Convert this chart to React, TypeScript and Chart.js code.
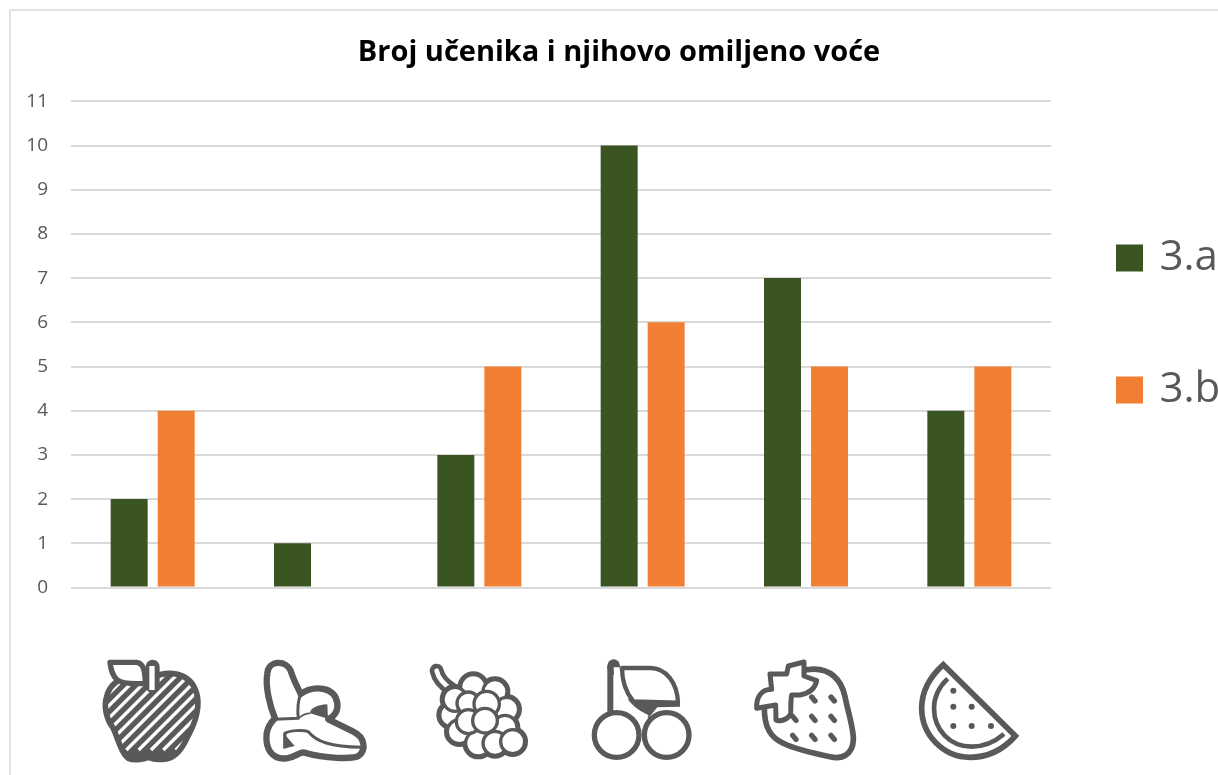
import React, { useEffect, useRef } from "react";
import { Chart, registerables } from "chart.js";

Chart.register(...registerables);

const categories = ["Jabuka", "Banana", "Grožđe", "Trešnje", "Jagoda", "Lubenica"];
const class3a = [2, 1, 3, 10, 7, 4];
const class3b = [4, 0, 5, 6, 5, 5];
const seriesNames = ["3.a", "3.b"];
const seriesColors = ["#3a5521", "#f07f33"];
const titleText = "Broj učenika i njihovo omiljeno voće";

const INK = "#595959";
const GRID = "#d9d9d9";

type Ctx = CanvasRenderingContext2D;

function shape(ctx: Ctx, d: string, fill: string | null, stroke: string | null, lw = 14) {
  const p = new Path2D(d);
  if (fill) { ctx.fillStyle = fill; ctx.fill(p); }
  if (stroke) { ctx.strokeStyle = stroke; ctx.lineWidth = lw; ctx.stroke(p); }
}

function circle(ctx: Ctx, x: number, y: number, r: number, fill: string | null, stroke: string | null, lw = 10) {
  ctx.beginPath();
  ctx.arc(x, y, r, 0, Math.PI * 2);
  if (fill) { ctx.fillStyle = fill; ctx.fill(); }
  if (stroke) { ctx.strokeStyle = stroke; ctx.lineWidth = lw; ctx.stroke(); }
}

function apple(ctx: Ctx) {
  const body = "M190 82 C230 62 300 62 320 130 C333 180 310 230 292 262 C275 300 250 330 215 328 C198 330 185 326 175 322 C160 330 130 332 115 325 C95 310 85 270 70 235 C50 210 40 170 50 140 C57 110 75 92 110 82 Z";
  const p = new Path2D(body);
  ctx.fillStyle = INK;
  ctx.fill(p);
  ctx.save();
  ctx.clip(p);
  ctx.strokeStyle = "#fff";
  ctx.lineWidth = 10;
  for (let k = 0; k < 13; k++) {
    const c = 150 + k * 37;
    ctx.beginPath();
    ctx.moveTo(c - 300, 300);
    ctx.lineTo(c, 0);
    ctx.stroke();
  }
  ctx.restore();
  ctx.strokeStyle = INK;
  ctx.lineWidth = 17;
  ctx.stroke(p);
  shape(ctx, "M60 37 L140 37 C162 40 165 65 166 100 C130 102 95 102 80 88 C66 75 62 55 60 37 Z", "#fff", INK, 16);
  ctx.lineCap = "round";
  ctx.strokeStyle = INK;
  ctx.lineWidth = 42;
  ctx.beginPath(); ctx.moveTo(188, 50); ctx.lineTo(188, 108); ctx.stroke();
  ctx.strokeStyle = "#fff";
  ctx.lineWidth = 16;
  ctx.lineCap = "butt";
  ctx.beginPath(); ctx.moveTo(186, 48); ctx.lineTo(186, 120); ctx.stroke();
}

function banana(ctx: Ctx) {
  shape(ctx, "M532 70 C535 30 590 28 603 65 C612 95 625 115 632 132 C670 105 735 108 742 160 C745 185 730 200 715 208 L790 245 C825 262 830 300 805 318 C790 328 700 325 650 310 C630 300 625 320 590 325 C545 330 525 295 530 250 C533 230 545 215 555 205 C540 170 525 110 532 70 Z", "#fff", INK, 19);
  shape(ctx, "M555 208 L625 205 C622 180 625 150 632 132", null, INK, 9);
  shape(ctx, "M585 295 L585 250 C600 240 640 240 655 245 C680 275 720 290 815 292", null, INK, 9);
  shape(ctx, "M580 248 L614 288 L580 296 Z", INK, null);
  shape(ctx, "M660 190 C660 175 680 165 712 163 L714 206 Z", INK, null);
  shape(ctx, "M625 205 C640 192 650 190 660 190", null, INK, 5);
}

function grapes(ctx: Ctx) {
  const bunch: [number, number, number][] = [
    [1150, 112, 38], [1215, 125, 36], [1250, 178, 36], [1245, 232, 36], [1085, 195, 36],
    [1095, 148, 36], [1108, 245, 36], [1165, 280, 38], [1215, 280, 36], [1135, 160, 34],
    [1135, 215, 36], [1190, 162, 38], [1185, 212, 37], [1268, 275, 36],
  ];
  ctx.lineCap = "round";
  ctx.strokeStyle = INK;
  shape(ctx, "M1040 62 C1045 85 1060 102 1085 118", null, INK, 42);
  shape(ctx, "M1040 62 C1045 85 1060 102 1085 118", null, "#fff", 14);
  bunch.forEach(([x, y, r]) => circle(ctx, x, y, r, INK, INK, 20));
  bunch.forEach(([x, y, r]) => circle(ctx, x, y, r, "#fff", INK, 10));
}

function cherry(ctx: Ctx) {
  ctx.lineCap = "round";
  ctx.strokeStyle = INK;
  ctx.lineWidth = 38;
  ctx.beginPath(); ctx.moveTo(131, 47); ctx.lineTo(131, 55); ctx.stroke();
  ctx.lineCap = "butt";
  ctx.lineWidth = 18;
  ctx.beginPath(); ctx.moveTo(121, 47); ctx.lineTo(121, 190); ctx.stroke();
  shape(ctx, "M148 140 C170 175 200 190 235 205 L262 172 L330 170 L330 150 L190 150 Z", INK, null);
  shape(ctx, "M156 54 L240 54 C290 54 322 100 324 158 L190 154 C170 130 156 100 156 54 Z", "#fff", INK, 13);
  shape(ctx, "M140 52 C140 120 160 172 232 204", null, "#fff", 18);
  circle(ctx, 140, 255, 67, "#fff", INK, 16);
  circle(ctx, 290, 255, 67, "#fff", INK, 16);
}

function strawberry(ctx: Ctx) {
  shape(ctx, "M720 58 C780 52 815 90 825 140 C835 190 852 240 850 270 C848 310 820 330 780 320 C730 310 680 300 640 280 C600 262 583 230 583 175 C583 120 640 60 720 58 Z", "#fff", INK, 17);
  shape(ctx, "M600 72 L650 72 L655 48 L702 36 L702 78 L740 92 C735 118 715 130 690 135 L665 135 C660 160 665 190 660 195 C650 212 625 215 618 210 L617 165 L560 175 C558 140 575 118 605 118 Z", "#fff", INK, 15);
  const seeds: [number, number][] = [[730, 147], [788, 147], [673, 205], [730, 205], [788, 205], [673, 262], [730, 262], [788, 262]];
  ctx.lineCap = "round";
  ctx.strokeStyle = INK;
  ctx.lineWidth = 16;
  seeds.forEach(([x, y]) => {
    ctx.beginPath(); ctx.moveTo(x - 5, y - 6); ctx.lineTo(x + 5, y + 6); ctx.stroke();
  });
}

function watermelon(ctx: Ctx) {
  ctx.lineJoin = "miter";
  shape(ctx, "M1120 44 L1336 258 C1290 310 1240 322 1200 322 C1120 322 1055 255 1055 175 C1055 125 1080 80 1120 44 Z", "#fff", INK, 17);
  shape(ctx, "M1302 252 C1275 275 1240 290 1205 290 C1140 290 1092 240 1092 175 C1092 140 1108 110 1133 86", null, INK, 14);
  const dots: [number, number][] = [[1150, 122], [1150, 170], [1205, 170], [1150, 228], [1205, 228], [1263, 228]];
  dots.forEach(([x, y]) => circle(ctx, x, y, 9, INK, null));
}

const icons: { draw: (c: Ctx) => void; origin: number }[] = [
  { draw: apple, origin: 188 },
  { draw: banana, origin: 678 },
  { draw: grapes, origin: 1168 },
  { draw: cherry, origin: 218 },
  { draw: strawberry, origin: 708 },
  { draw: watermelon, origin: 1198 },
];

const framePlugin = {
  id: "frame",
  beforeDraw(chart: any) {
    const { ctx } = chart;
    ctx.save();
    ctx.strokeStyle = "#e2e2e2";
    ctx.lineWidth = 2;
    ctx.strokeRect(10, 10, 1400, 1000);
    ctx.restore();
  },
};

const placePlugin = {
  id: "place",
  afterLayout(chart: any) {
    const lg = chart.legend;
    const pad = lg.options.labels.padding;
    lg.left = 1120.5 - pad;
    lg.right = 1218;
    lg.top = 237 - pad;
    lg.bottom = 775;
    const tb = chart.titleBlock;
    tb.left = 20;
    tb.right = 1218;
  },
};

const iconPlugin = {
  id: "fruitIcons",
  afterDraw(chart: any) {
    const { ctx } = chart;
    const xs = chart.scales.x;
    icons.forEach((ic, i) => {
      ctx.save();
      ctx.translate(xs.getPixelForTick(i) - ic.origin / 3, 650);
      ctx.scale(1 / 3, 1 / 3);
      ctx.lineJoin = "round";
      ic.draw(ctx);
      ctx.restore();
    });
  },
};

export default function App() {
  const ref = useRef<HTMLCanvasElement>(null);
  useEffect(() => {
    const chart = new Chart(ref.current!, {
      type: "bar",
      data: {
        labels: categories,
        datasets: [
          { label: seriesNames[0], data: class3a, backgroundColor: seriesColors[0], borderWidth: 0 },
          { label: seriesNames[1], data: class3b, backgroundColor: seriesColors[1], borderWidth: 0 },
        ],
      },
      plugins: [framePlugin, placePlugin, iconPlugin],
      options: {
        responsive: false,
        animation: false,
        maintainAspectRatio: false,
        layout: { padding: { top: 0, left: 0, right: 0, bottom: 187.5 } },
        datasets: { bar: { categoryPercentage: 0.5755, barPercentage: 0.787 } },
        plugins: {
          tooltip: { enabled: false },
          title: {
            display: true,
            text: titleText,
            color: "#000",
            font: { family: "'Open Sans'", size: 29, weight: "bold" },
            padding: { top: 35, bottom: 31.5 },
          },
          legend: {
            display: true,
            position: "right",
            align: "start",
            maxWidth: 167,
            labels: {
              boxWidth: 18,
              boxHeight: 18,
              padding: 90,
              color: "#595959",
              font: { family: "'Open Sans'", size: 42 },
              generateLabels: (c: any) =>
                c.data.datasets.map((d: any, i: number) => ({
                  text: d.label,
                  fillStyle: d.backgroundColor,
                  strokeStyle: d.backgroundColor,
                  lineWidth: 9,
                  lineJoin: "miter",
                  datasetIndex: i,
                  fontColor: "#595959",
                })),
            },
          },
        },
        scales: {
          x: {
            grid: { display: false, drawTicks: false },
            border: { display: false },
            ticks: { display: false },
          },
          y: {
            min: 0,
            max: 11,
            afterFit(s: any) { s.width = 71; },
            grid: { color: GRID, lineWidth: 2, drawTicks: false },
            border: { display: false },
            ticks: {
              stepSize: 1,
              padding: 23,
              color: "#595959",
              font: { family: "'Open Sans'", size: 19 },
            },
          },
        },
      },
    } as any);
    return () => chart.destroy();
  }, []);
  return (
    <canvas
      ref={ref}
      width={1218}
      height={775}
      style={{ position: "fixed", left: 0, top: 0, display: "block", background: "#fff" }}
    />
  );
}
